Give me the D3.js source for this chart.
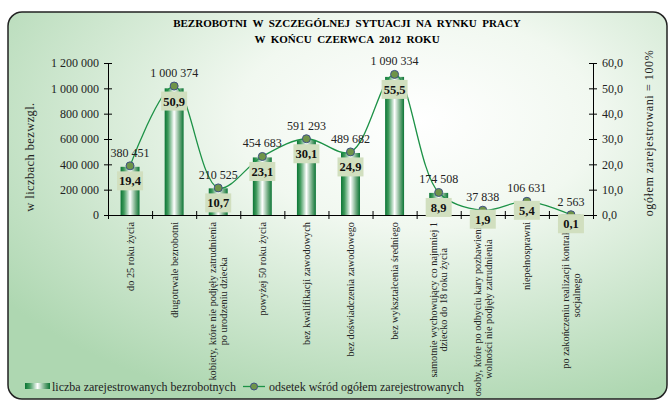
<!DOCTYPE html>
<html>
<head>
<meta charset="utf-8">
<script src="https://cdn.jsdelivr.net/npm/d3@7"></script>
<style>
  html, body { margin: 0; padding: 0; background: #fff; }
  svg { display: block; font-family: "Liberation Serif", "Times New Roman", serif; }
</style>
</head>
<body>
<svg id="chart" width="670" height="403"></svg>
<script>
// dane z wykresu
const categories = [
  ["do 25 roku życia"],
  ["długotrwale bezrobotni"],
  ["kobiety, które nie podjęły zatrudnienia", "po urodzeniu dziecka"],
  ["powyżej 50 roku życia"],
  ["bez kwalifikacji zawodowych"],
  ["bez doświadczenia zawodowego"],
  ["bez wykształcenia średniego"],
  ["samotnie wychowujący co najmniej 1", "dziecko do 18 roku życia"],
  ["osoby, które po odbyciu kary pozbawienia", "wolności nie podjęły zatrudnienia"],
  ["niepełnosprawni"],
  ["po zakończeniu realizacji kontraktu", "socjalnego"]
];
const counts = [380451, 1000374, 210525, 454683, 591293, 489682, 1090334, 174508, 37838, 106631, 2563];
const shares = [19.4, 50.9, 10.7, 23.1, 30.1, 24.9, 55.5, 8.9, 1.9, 5.4, 0.1];
const countTicks = [0, 200000, 400000, 600000, 800000, 1000000, 1200000];
const shareTicks = [0, 10, 20, 30, 40, 50, 60];
const titleLines = ["BEZROBOTNI  W  SZCZEGÓLNEJ  SYTUACJI  NA  RYNKU  PRACY", "W  KOŃCU  CZERWCA  2012  ROKU"];
const legendLabels = ["liczba zarejestrowanych bezrobotnych", "odsetek wśród ogółem zarejestrowanych"];

const svg = d3.select("#chart");
const plotLeft = 108, plotRight = 593, plotTop = 63, plotBottom = 215;

const data = categories.map((c, i) => ({ id: i, lines: c, count: counts[i], share: shares[i] }));

// gradienty
const defs = svg.append("defs");
const bg = defs.append("radialGradient").attr("id", "bg")
  .attr("cx", "62%").attr("cy", "28%").attr("r", "78%");
bg.append("stop").attr("offset", "0%").attr("stop-color", "#ffffff");
bg.append("stop").attr("offset", "35%").attr("stop-color", "#f1f8f0");
bg.append("stop").attr("offset", "100%").attr("stop-color", "#aed7b1");

const barGrad = defs.append("linearGradient").attr("id", "bar")
  .attr("x1", "0%").attr("x2", "100%").attr("y1", "0%").attr("y2", "0%");
[["0%", "#0b7535"], ["18%", "#3f9a5c"], ["50%", "#ffffff"], ["80%", "#6aa77c"], ["100%", "#0b7535"]]
  .forEach(([o, c]) => barGrad.append("stop").attr("offset", o).attr("stop-color", c));

// tło
svg.append("rect")
  .attr("x", 8).attr("y", 12).attr("width", 659).attr("height", 387)
  .attr("rx", 14)
  .attr("fill", "url(#bg)")
  .attr("stroke", "#222").attr("stroke-width", 1.5);

// tytuł
svg.append("g").selectAll("text")
  .data(titleLines)
  .join("text")
  .attr("x", 347).attr("y", (d, i) => 27 + i * 16)
  .attr("text-anchor", "middle")
  .style("font-size", "11px").style("font-weight", "bold")
  .style("white-space", "pre")
  .text(d => d);

// skale
const x = d3.scaleBand().domain(data.map(d => d.id)).range([plotLeft, plotRight])
  .paddingInner(0.57).paddingOuter(0.285);
const xEdge = d3.scaleLinear().domain([0, data.length]).range([plotLeft, plotRight]);
const y = d3.scaleLinear().domain([0, 1200000]).range([plotBottom, plotTop]);
const yp = d3.scaleLinear().domain([0, 60]).range([plotBottom, plotTop]);

const fmtCount = d => d3.format(",")(d).replace(/,/g, " ");
const fmtShare = d => d.toFixed(1).replace(".", ",");

// osie
const axL = svg.append("g").attr("transform", `translate(${plotLeft},0)`)
  .call(d3.axisLeft(y).tickValues(countTicks).tickFormat(fmtCount)
    .tickSizeInner(4).tickSizeOuter(0).tickPadding(5));
axL.selectAll(".tick line").attr("x1", 4);

const axR = svg.append("g").attr("transform", `translate(${plotRight},0)`)
  .call(d3.axisRight(yp).tickValues(shareTicks).tickFormat(fmtShare)
    .tickSizeInner(4).tickSizeOuter(0).tickPadding(5));
axR.selectAll(".tick line").attr("x1", -4);

const axB = svg.append("g").attr("transform", `translate(0,${plotBottom})`)
  .call(d3.axisBottom(xEdge).tickValues(d3.range(data.length + 1)).tickFormat("")
    .tickSizeInner(4).tickSizeOuter(0));
axB.selectAll(".tick line").attr("y1", -4);

svg.selectAll(".domain").attr("stroke", "#000");
svg.selectAll(".tick line").attr("stroke", "#000");
svg.selectAll(".tick text")
  .style("font-family", "'Liberation Serif', 'Times New Roman', serif")
  .style("font-size", "12px").attr("fill", "#222");

// tytuły osi
svg.append("text")
  .attr("transform", `translate(34,157) rotate(-90)`)
  .attr("text-anchor", "middle")
  .style("font-size", "12.5px").style("letter-spacing", "0.4px").attr("fill", "#222")
  .text("w liczbach bezwzgl.");
svg.append("text")
  .attr("transform", `translate(653,133) rotate(-90)`)
  .attr("text-anchor", "middle")
  .style("font-size", "12px").style("letter-spacing", "0.6px").attr("fill", "#222")
  .text("ogółem zarejestrowani = 100%");

// etykiety kategorii
const catG = svg.append("g").selectAll("g")
  .data(data)
  .join("g")
  .attr("transform", d => `translate(${x(d.id) + x.bandwidth() / 2},222) rotate(-90)`);
catG.each(function (d) {
  const g = d3.select(this);
  const n = d.lines.length;
  const texts = g.selectAll("text")
    .data(d.lines)
    .join("text")
    .attr("y", (t, i) => (i - (n - 1) / 2) * 10.5 + 3.5)
    .style("font-size", "10.3px").attr("fill", "#222")
    .text(t => t);
  const maxLen = d3.max(texts.nodes(), el => el.getComputedTextLength());
  texts.attr("x", -maxLen / 2).attr("text-anchor", "middle");
});

// słupki
svg.append("g").selectAll("rect")
  .data(data)
  .join("rect")
  .attr("x", d => x(d.id))
  .attr("y", d => y(d.count))
  .attr("width", x.bandwidth())
  .attr("height", d => plotBottom - y(d.count))
  .attr("fill", "url(#bar)");

// linia odsetka
const line = d3.line()
  .x(d => x(d.id) + x.bandwidth() / 2)
  .y(d => yp(d.share))
  .curve(d3.curveCatmullRom.alpha(0.5));
svg.append("path")
  .datum(data)
  .attr("d", line)
  .attr("fill", "none")
  .attr("stroke", "#1d9247")
  .attr("stroke-width", 1.3);

svg.append("g").selectAll("circle")
  .data(data)
  .join("circle")
  .attr("cx", d => x(d.id) + x.bandwidth() / 2)
  .attr("cy", d => yp(d.share))
  .attr("r", 4)
  .attr("fill", "#6f9449")
  .attr("stroke", "#3e5184").attr("stroke-width", 1);

// etykiety liczb
svg.append("g").selectAll("text")
  .data(data)
  .join("text")
  .attr("x", d => x(d.id) + x.bandwidth() / 2)
  .attr("y", d => Math.min(y(d.count), yp(d.share)) - 9)
  .attr("text-anchor", "middle")
  .style("font-size", "12px").attr("fill", "#222")
  .text(d => fmtCount(d.count));

// etykiety odsetka
const pct = svg.append("g").selectAll("g")
  .data(data)
  .join("g")
  .attr("transform", d => `translate(${x(d.id) + x.bandwidth() / 2},${yp(d.share) + (d.share < 6 ? 9 : 15)})`);
pct.append("rect")
  .attr("x", -13).attr("y", -9.5).attr("width", 26).attr("height", 19)
  .attr("fill", "#d1dfbf");
pct.append("text")
  .attr("y", 4.5)
  .attr("text-anchor", "middle")
  .style("font-size", "12.5px").style("font-weight", "bold").attr("fill", "#111")
  .text(d => fmtShare(d.share));

// legenda
const leg = svg.append("g");
leg.append("rect").attr("x", 25).attr("y", 383).attr("width", 25).attr("height", 6).attr("fill", "url(#bar)");
leg.append("text").attr("x", 52).attr("y", 391).style("font-size", "12px").attr("fill", "#222").text(legendLabels[0]);
leg.append("line").attr("x1", 243).attr("x2", 265).attr("y1", 386.5).attr("y2", 386.5)
  .attr("stroke", "#1d9247").attr("stroke-width", 1.3);
leg.append("circle").attr("cx", 254).attr("cy", 386.5).attr("r", 3.5)
  .attr("fill", "#6f9449").attr("stroke", "#3e5184");
leg.append("text").attr("x", 269).attr("y", 391).style("font-size", "12px").attr("fill", "#222").text(legendLabels[1]);
</script>
</body>
</html>
